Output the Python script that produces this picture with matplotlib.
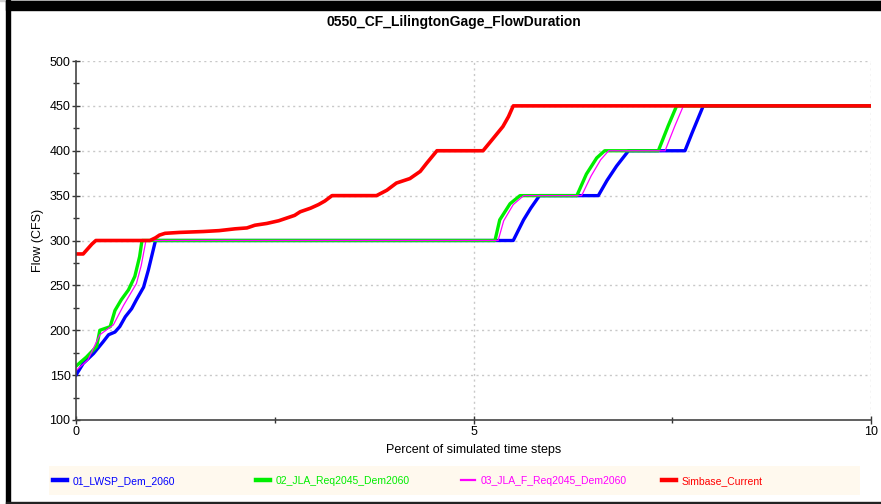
import matplotlib
matplotlib.use("Agg")
import matplotlib.pyplot as plt
from matplotlib.patches import Rectangle
from matplotlib.ticker import FixedLocator

plt.rcParams['font.family'] = ['Liberation Sans', 'DejaVu Sans']

title = "0550_CF_LilingtonGage_FlowDuration"
xlabel = "Percent of simulated time steps"
ylabel = "Flow (CFS)"

names = ["01_LWSP_Dem_2060", "02_JLA_Req2045_Dem2060", "03_JLA_F_Req2045_Dem2060", "Simbase_Current"]
colors = ["#0000ff", "#00ee00", "#ff00ff", "#ff0000"]

x_major = [0, 5, 10]
x_minor = [2.5, 7.5]
y_major = [100, 150, 200, 250, 300, 350, 400, 450, 500]
y_minor = [125, 175, 225, 275, 325, 375, 425, 475]

# 01_LWSP_Dem_2060
x_lwsp = [0.0, 0.09, 0.22, 0.34, 0.41, 0.49, 0.55, 0.62, 0.70, 0.76, 0.85, 0.91, 0.97, 1.0,
          5.50, 5.63, 5.72, 5.83, 6.57, 6.68, 6.80, 6.95, 7.66, 7.75, 7.89, 10.0]
y_lwsp = [150, 163, 174, 187, 195, 198, 204, 215, 224, 234, 248, 267, 289, 300,
          300, 323, 336, 350, 350, 367, 383, 400, 400, 420, 450, 450]

# 02_JLA_Req2045_Dem2060
x_jla = [0.0, 0.13, 0.26, 0.30, 0.43, 0.49, 0.57, 0.66, 0.74, 0.80, 0.83,
         5.27, 5.33, 5.46, 5.585, 6.30, 6.42, 6.55, 6.65, 7.325, 7.45, 7.555, 10.0]
y_jla = [160, 170, 182, 200, 204, 222, 234, 245, 260, 282, 300,
         300, 323, 341, 350, 350, 374, 392, 400, 400, 428, 450, 450]

# 03_JLA_F_Req2045_Dem2060
x_jlaf = [0.0, 0.15, 0.30, 0.47, 0.60, 0.76, 0.82, 0.88,
          5.31, 5.38, 5.50, 5.63, 6.36, 6.48, 6.60, 6.70, 7.41, 7.53, 7.64, 10.0]
y_jlaf = [155, 167, 195, 206, 228, 252, 272, 300,
          300, 322, 340, 350, 350, 372, 390, 400, 400, 427, 450, 450]

# Simbase_Current
x_sim = [0.0, 0.09, 0.15, 0.20, 0.25, 0.93, 1.0, 1.05, 1.12, 1.3, 1.6, 1.8, 2.0, 2.15, 2.25, 2.4,
         2.55, 2.65, 2.75, 2.82, 2.95, 3.05, 3.13, 3.22, 3.78, 3.91, 4.03, 4.20, 4.33, 4.41,
         4.54, 5.12, 5.25, 5.37, 5.44, 5.50, 10.0]
y_sim = [285, 285, 291, 296, 300, 300, 303, 306, 308, 309, 310, 311, 313, 314, 317, 319,
         322, 325, 328, 332, 336, 340, 344, 350, 350, 356, 364, 369, 377, 386,
         400, 400, 414, 427, 438, 450, 450]

series_x = [x_lwsp, x_jla, x_jlaf, x_sim]
series_y = [y_lwsp, y_jla, y_jlaf, y_sim]
widths = [2.4, 2.4, 0.9, 2.6]

fig = plt.figure(figsize=(8.81, 5.04), dpi=100)
W, H = 881, 504

def fx(px):
    return px / W

def fy(py):
    return 1 - py / H

# frame decorations
fig.patches.append(Rectangle((0, fy(1)), 1, 1 / H, transform=fig.transFigure, color="#cfcfcf", zorder=0))
fig.patches.append(Rectangle((fx(6), fy(10)), 1, 9 / H, transform=fig.transFigure, color="black", zorder=1))
fig.patches.append(Rectangle((fx(6), 0), 4 / W, 1, transform=fig.transFigure, color="black", zorder=1))
fig.patches.append(Rectangle((fx(6), 0), 1, 2 / H, transform=fig.transFigure, color="#222222", zorder=1))

ax = fig.add_axes([fx(76), fy(420), (871 - 76) / W, (420 - 61) / H])
lines = []
for xs, ys, c, lw, n in zip(series_x, series_y, colors, widths, names):
    ln, = ax.plot(xs, ys, color=c, lw=lw, label=n, solid_joinstyle='round')
    lines.append(ln)

ax.set_xlim(0, 10)
ax.set_ylim(100, 500)
ax.xaxis.set_major_locator(FixedLocator(x_major))
ax.xaxis.set_minor_locator(FixedLocator(x_minor))
ax.yaxis.set_major_locator(FixedLocator(y_major))
ax.yaxis.set_minor_locator(FixedLocator(y_minor))
ax.tick_params(which='major', direction='inout', length=6, width=1, color="#333333",
               labelsize=9, pad=1)
ax.tick_params(which='minor', direction='inout', length=5, width=1, color="#333333")
for sp in ['top', 'right']:
    ax.spines[sp].set_visible(False)
for sp in ['left', 'bottom']:
    ax.spines[sp].set_color("#444444")
    ax.spines[sp].set_linewidth(1.2)
for yv in y_major[1:]:
    ax.axhline(yv, color="#c8c8c8", lw=1, ls=(0, (1.5, 2.5)), zorder=0)
for xv in x_major[1:]:
    ax.axvline(xv, color="#c8c8c8", lw=1, ls=(0, (1.5, 2.5)), zorder=0)

ax.set_xlabel(xlabel, fontsize=9, labelpad=5)
ax.set_ylabel(ylabel, fontsize=9, labelpad=4)
fig.text(fx(453.5), fy(22), title, ha='center', va='center', fontsize=10, fontweight='bold')

# legend area
fig.patches.append(Rectangle((fx(49), fy(495)), (860 - 49) / W, 29 / H, transform=fig.transFigure,
                             facecolor="#fff9ee", edgecolor="none", zorder=1))
leg_x = [53, 256, 461, 662]
for ln, c, px in zip(lines, colors, leg_x):
    lg = fig.legend(handles=[ln], loc='center left', bbox_to_anchor=(fx(px), fy(481)),
                    frameon=False, fontsize=7.5, handlelength=1.3, handletextpad=0.6,
                    borderpad=0, borderaxespad=0)
    for t in lg.get_texts():
        t.set_color(c)
    for h in lg.legend_handles:
        h.set_linewidth(3.2 if c != "#ff00ff" else 1.6)

fig.savefig("out.png", dpi=100)
